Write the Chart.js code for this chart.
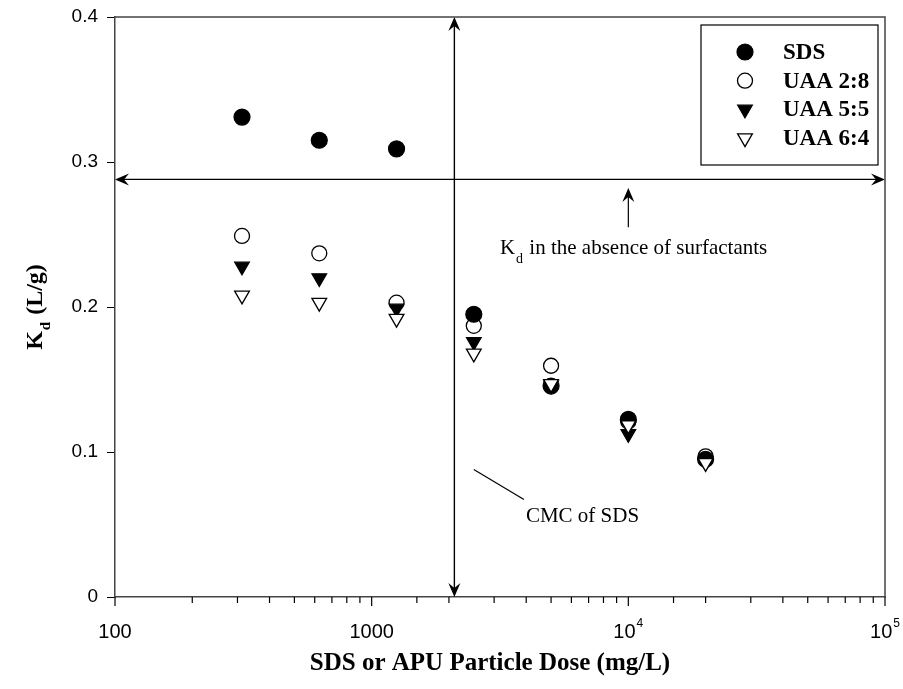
<!DOCTYPE html>
<html>
<head>
<meta charset="utf-8">
<script src="https://cdn.jsdelivr.net/npm/chart.js@4.4.1/dist/chart.umd.min.js"></script>
<style>
html, body { margin: 0; padding: 0; background: #fff; }
</style>
</head>
<body>
<canvas id="kdChart" width="903" height="689"></canvas>
<script>
// dose of SDS or APU particles (mg/L)
var doses = [312.5, 625, 1250, 2500, 5000, 10000, 20000];
// Kd (L/g) for each series
var sds    = [0.331, 0.315, 0.309, 0.195, 0.1455, 0.1225, 0.095];
var uaa28  = [0.249, 0.237, 0.203, 0.187, 0.1595, 0.121, 0.097];
var uaa55  = [0.228, 0.220, 0.199, 0.176, 0.146, 0.1125, 0.093];
var uaa64  = [0.208, 0.203, 0.192, 0.168, 0.147, 0.1185, 0.0925];
var seriesNames = ['SDS', 'UAA 2:8', 'UAA 5:5', 'UAA 6:4'];
// x tick labels: base and exponent
var xTickValues = [100, 1000, 10000, 100000];
var xTickBase = ['100', '1000', '10', '10'];
var xTickExp = ['', '', '4', '5'];
var cmcDose = 2100;        // CMC of SDS
var kdNoSurfactant = 0.288;

function pts(ys) {
	return doses.map(function(d, i) { return { x: d, y: ys[i] }; });
}

var serif = '"Liberation Serif", "Times New Roman", serif';
var sans = '"Liberation Sans", Arial, sans-serif';

function arrowHead(ctx, x, y, ang) {
	var len = 14, half = 6, notch = 9;
	ctx.save();
	ctx.translate(x, y);
	ctx.rotate(ang);
	ctx.beginPath();
	ctx.moveTo(0, 0);
	ctx.lineTo(-len, -half);
	ctx.lineTo(-notch, 0);
	ctx.lineTo(-len, half);
	ctx.closePath();
	ctx.fill();
	ctx.restore();
}

var overlay = {
	id: 'overlay',
	beforeDatasetsDraw: function(chart) {
		var ctx = chart.ctx, xs = chart.scales.x, ys = chart.scales.y;
		ctx.save();
		ctx.strokeStyle = '#000';
		ctx.fillStyle = '#000';
		ctx.lineWidth = 1.4;
		// CMC vertical double arrow
		var cx = xs.getPixelForValue(cmcDose);
		ctx.beginPath();
		ctx.moveTo(cx, ys.getPixelForValue(0.4) + 6);
		ctx.lineTo(cx, ys.getPixelForValue(0) - 6);
		ctx.stroke();
		arrowHead(ctx, cx, ys.getPixelForValue(0.4), -Math.PI / 2);
		arrowHead(ctx, cx, ys.getPixelForValue(0), Math.PI / 2);
		// Kd without surfactant, horizontal double arrow
		var hy = ys.getPixelForValue(kdNoSurfactant);
		ctx.beginPath();
		ctx.moveTo(xs.getPixelForValue(100) + 6, hy);
		ctx.lineTo(xs.getPixelForValue(100000) - 6, hy);
		ctx.stroke();
		arrowHead(ctx, xs.getPixelForValue(100), hy, Math.PI);
		arrowHead(ctx, xs.getPixelForValue(100000), hy, 0);
		// small pointer arrow
		var px = xs.getPixelForValue(10000);
		ctx.lineWidth = 1.2;
		ctx.beginPath();
		ctx.moveTo(px, ys.getPixelForValue(0.255));
		ctx.lineTo(px, ys.getPixelForValue(0.282) + 6);
		ctx.stroke();
		arrowHead(ctx, px, ys.getPixelForValue(0.282), -Math.PI / 2);
		// CMC leader line
		ctx.beginPath();
		ctx.moveTo(xs.getPixelForValue(2500), ys.getPixelForValue(0.088));
		ctx.lineTo(xs.getPixelForValue(3920), ys.getPixelForValue(0.0673));
		ctx.stroke();
		ctx.restore();
	},
	afterDatasetsDraw: function(chart) {
		var ctx = chart.ctx, xs = chart.scales.x, ys = chart.scales.y, a = chart.chartArea;
		ctx.save();
		// frame top and right
		ctx.strokeStyle = '#444';
		ctx.lineWidth = 1.5;
		ctx.beginPath();
		ctx.moveTo(a.left, a.top);
		ctx.lineTo(a.right, a.top);
		ctx.lineTo(a.right, a.bottom);
		ctx.stroke();

		// x tick marks, long at decades
		ctx.strokeStyle = '#000';
		ctx.lineWidth = 1.2;
		xs.ticks.forEach(function(t) {
			var p = xs.getPixelForValue(t.value);
			var lg = Math.log10(t.value);
			var major = Math.abs(lg - Math.round(lg)) < 1e-9;
			ctx.beginPath();
			ctx.moveTo(p, a.bottom);
			ctx.lineTo(p, a.bottom + (major ? 9 : 6));
			ctx.stroke();
		});

		// x tick labels with superscripts
		ctx.fillStyle = '#000';
		ctx.textBaseline = 'alphabetic';
		ctx.textAlign = 'left';
		xTickValues.forEach(function(v, i) {
			var p = xs.getPixelForValue(v);
			ctx.font = '20px ' + sans;
			var bw = ctx.measureText(xTickBase[i]).width;
			ctx.font = '12px ' + sans;
			var ew = xTickExp[i] ? ctx.measureText(xTickExp[i]).width + 1 : 0;
			var sx = p - (bw + ew) / 2;
			ctx.font = '20px ' + sans;
			ctx.fillText(xTickBase[i], sx, a.bottom + 41);
			if (xTickExp[i]) {
				ctx.font = '12px ' + sans;
				ctx.fillText(xTickExp[i], sx + bw + 1, a.bottom + 30);
			}
		});

		// x axis title
		ctx.textAlign = 'center';
		ctx.textBaseline = 'middle';
		ctx.font = 'bold 25px ' + serif;
		ctx.fillText('SDS or APU Particle Dose (mg/L)', a.left + (a.right - a.left) * 0.487, 664);

		// annotation texts
		ctx.textAlign = 'left';
		ctx.textBaseline = 'alphabetic';
		var tx = xs.getPixelForValue(3160), ty = ys.getPixelForValue(0.2368);
		ctx.font = '21px ' + serif;
		ctx.fillText('K', tx, ty);
		var kw = ctx.measureText('K').width;
		ctx.font = '14px ' + serif;
		ctx.fillText('d', tx + kw + 1, ty + 9);
		var dw = ctx.measureText('d').width;
		ctx.font = '21px ' + serif;
		ctx.fillText(' in the absence of surfactants', tx + kw + dw + 2, ty);
		ctx.fillText('CMC of SDS', xs.getPixelForValue(3990), ys.getPixelForValue(0.0518));

		// legend box
		var bx = a.right - 184, by = a.top + 8, bw2 = 177, bh = 140;
		ctx.strokeStyle = '#000';
		ctx.lineWidth = 1.2;
		ctx.strokeRect(bx, by, bw2, bh);
		ctx.font = 'bold 23px ' + serif;
		ctx.textBaseline = 'middle';
		chart.data.datasets.forEach(function(ds, i) {
			var ry = by + 27 + i * 28.7;
			ctx.fillStyle = ds.backgroundColor;
			ctx.strokeStyle = ds.borderColor;
			ctx.lineWidth = ds.borderWidth;
			Chart.helpers.drawPoint(ctx, {
				pointStyle: ds.pointStyle, rotation: ds.rotation,
				radius: ds.pointRadius, borderWidth: ds.borderWidth
			}, bx + 44, ry);
			ctx.fillStyle = '#000';
			ctx.fillText(ds.label, bx + 82, ry + 1);
		});

		// y axis title with subscript
		ctx.save();
		ctx.translate(34, (a.top + a.bottom) / 2);
		ctx.rotate(-Math.PI / 2);
		ctx.textBaseline = 'alphabetic';
		ctx.font = 'bold 24px ' + serif;
		var w1 = ctx.measureText('K').width, w3 = ctx.measureText(' (L/g)').width;
		ctx.font = 'bold 15px ' + serif;
		var w2 = ctx.measureText('d').width;
		var sx = -(w1 + w2 + w3 + 2) / 2;
		ctx.font = 'bold 24px ' + serif;
		ctx.fillText('K', sx, 8);
		ctx.font = 'bold 15px ' + serif;
		ctx.fillText('d', sx + w1 + 1, 16);
		ctx.font = 'bold 24px ' + serif;
		ctx.fillText(' (L/g)', sx + w1 + w2 + 2, 8);
		ctx.restore();
		ctx.restore();
	}
};

var ctx = document.getElementById('kdChart').getContext('2d');
var myChart = new Chart(ctx, {
	type: 'scatter',
	data: {
		datasets: [{
			label: seriesNames[0], data: pts(sds), order: 3,
			pointStyle: 'circle', rotation: 0, pointRadius: 8, pointHoverRadius: 8,
			backgroundColor: '#000', borderColor: '#000', borderWidth: 1.2
		}, {
			label: seriesNames[1], data: pts(uaa28), order: 4,
			pointStyle: 'circle', rotation: 0, pointRadius: 7.5, pointHoverRadius: 7.5,
			backgroundColor: '#fff', borderColor: '#000', borderWidth: 1.3
		}, {
			label: seriesNames[2], data: pts(uaa55), order: 2,
			pointStyle: 'triangle', rotation: 180, pointRadius: 8.5, pointHoverRadius: 8.5,
			backgroundColor: '#000', borderColor: '#000', borderWidth: 1.2
		}, {
			label: seriesNames[3], data: pts(uaa64), order: 1,
			pointStyle: 'triangle', rotation: 180, pointRadius: 8.5, pointHoverRadius: 8.5,
			backgroundColor: '#fff', borderColor: '#000', borderWidth: 1.3
		}]
	},
	options: {
		responsive: false,
		animation: false,
		layout: { padding: { left: 0, top: 17, right: 18, bottom: 0 } },
		plugins: { legend: { display: false }, tooltip: { enabled: false } },
		scales: {
			x: {
				type: 'logarithmic',
				min: 100, max: 100000,
				afterFit: function(s) { s.height = 92; s.paddingLeft = 0; s.paddingRight = 0; },
				border: { display: true, color: '#444', width: 1.5 },
				grid: { display: true, drawOnChartArea: false, drawTicks: false },
				ticks: {
					autoSkip: false, maxRotation: 0,
					callback: function() { return ''; }
				}
			},
			y: {
				min: 0, max: 0.4,
				afterFit: function(s) { s.width = 115; s.paddingTop = 0; s.paddingBottom = 0; },
				border: { display: true, color: '#444', width: 1.5 },
				grid: { display: true, drawOnChartArea: false, drawTicks: true, tickLength: 8, tickColor: '#000' },
				ticks: { stepSize: 0.1, padding: 9, color: '#000', font: { family: sans, size: 19 } }
			}
		}
	},
	plugins: [overlay]
});
</script>
</body>
</html>
